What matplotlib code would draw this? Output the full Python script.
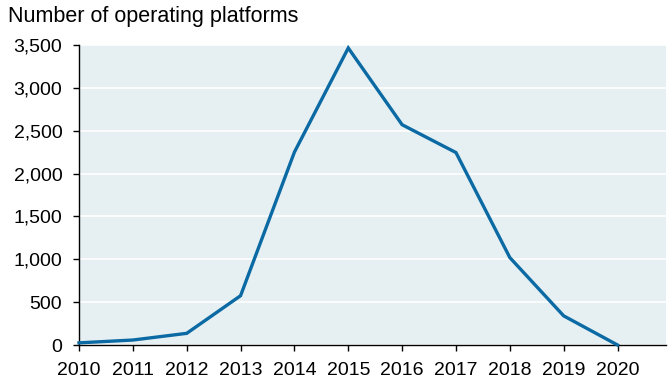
import matplotlib
matplotlib.use("Agg")
import matplotlib.pyplot as plt

years = [2010, 2011, 2012, 2013, 2014, 2015, 2016, 2017, 2018, 2019, 2020]
platforms = [25, 58, 136, 575, 2250, 3465, 2570, 2245, 1020, 340, 0]
yticks = [0, 500, 1000, 1500, 2000, 2500, 3000, 3500]
ytick_labels = ["0", "500", "1,000", "1,500", "2,000", "2,500", "3,000", "3,500"]

plt.rcParams['font.family'] = ['Liberation Sans', 'DejaVu Sans']

fig = plt.figure(figsize=(6.7, 3.79), dpi=100)
ax = fig.add_axes([79/670, 1 - 345/379, (666-79)/670, 300/379])
ax.set_facecolor('#e6f0f3')
ax.plot(years, platforms, color='#0b6aa3', lw=2.4, solid_joinstyle='miter', zorder=3, clip_on=False)
ax.set_xlim(2010, 2020.9)
ax.set_ylim(0, 3500)
ax.set_yticks(yticks)
ax.set_yticklabels(ytick_labels)
ax.set_xticks(years)
ax.set_xticklabels([str(y) for y in years])
ax.grid(axis='y', color='white', lw=1.2)
ax.set_axisbelow(True)
for s in ['top', 'right']:
    ax.spines[s].set_visible(False)
for s in ['left', 'bottom']:
    ax.spines[s].set_color('black')
    ax.spines[s].set_linewidth(1.0)
ax.tick_params(axis='both', direction='out', length=4.5, width=1, labelsize=14, colors='black')
ax.tick_params(axis='y', pad=7.5)
ax.tick_params(axis='x', pad=8)

fig.text(8/670, 1 - 22/379, "Number of operating platforms", fontsize=15.5, va='baseline', ha='left')

fig.savefig("out.png", dpi=100)
